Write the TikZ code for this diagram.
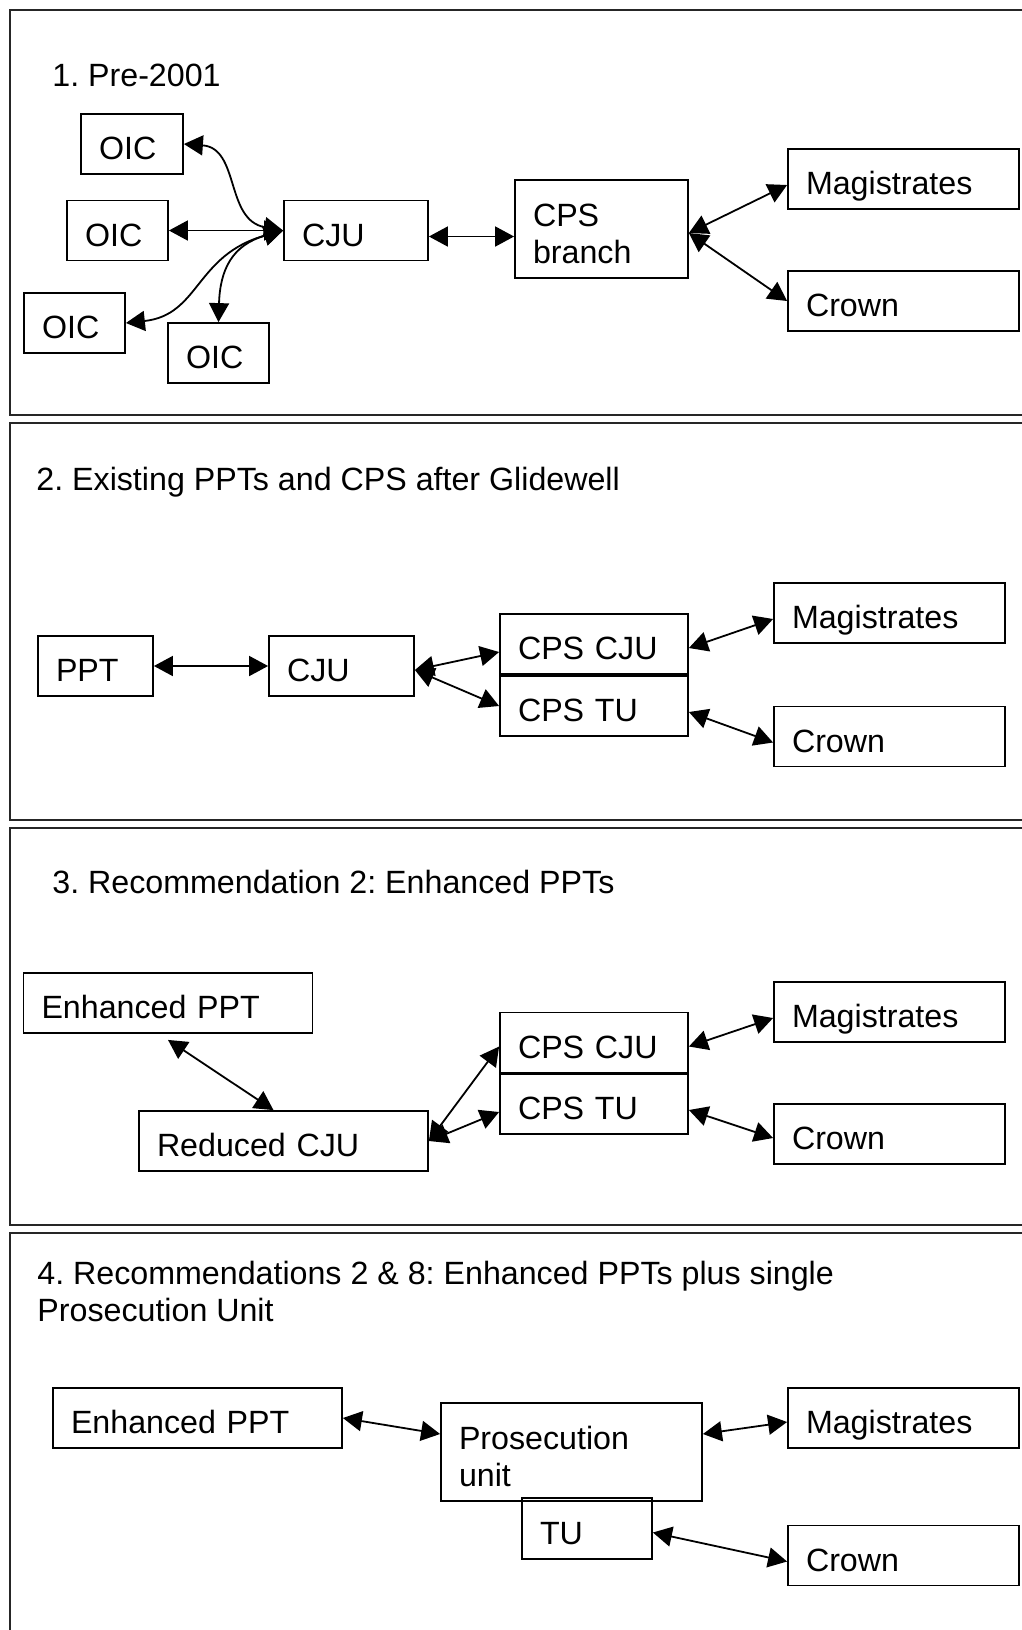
\documentclass[tikz,border=0pt]{standalone}
\usepackage{fontspec}
\setmainfont{Liberation Sans}
\usetikzlibrary{arrows.meta}
\frenchspacing

\tikzset{
	box/.style={draw, line width=0.9pt, inner xsep=9pt, inner ysep=2pt, align=left,
		text height=19pt, text depth=3.2pt, minimum height=30pt},
	box2/.style={draw, line width=0.9pt, inner xsep=9pt, align=left, minimum height=49pt,
		execute at begin node={\rule{0pt}{16pt}}},
	title/.style={anchor=base west, inner sep=0pt},
	link/.style={<->, line width=0.9pt},
	panel/.style={line width=0.9pt, draw=black!85},
}

\begin{document}
\begin{tikzpicture}[x=0.5pt, y=-0.5pt, >={Triangle[length=9.5pt,width=10pt]},
	font=\fontsize{16.1pt}{18.5pt}\selectfont]
	\clip (0,0) rectangle (1022,1630);
	
	% Ramki paneli
	\draw[panel] (10,10) rectangle (1040,415);
	\draw[panel] (10,423) rectangle (1040,820);
	\draw[panel] (10,828) rectangle (1040,1225);
	\draw[panel] (10,1233) rectangle (1040,1660);
	
	% 1. Pre-2001
	\node[title] (t1) at (52,86) {1. Pre-2001};
	\node[box, text width=33pt] (oicA) at (132,144) {OIC};
	\node[box, text width=32.5pt] (oicB) at (117.5,230.5) {OIC};
	\node[box, text width=32.5pt] (oicC) at (74.5,323) {OIC};
	\node[box, text width=32.5pt] (oicD) at (218.5,353) {OIC};
	\node[box, text width=54pt] (cjuA) at (356,230.5) {CJU};
	\node[box2, text width=68.5pt] (cps) at (601.5,229) {CPS\\branch};
	\node[box, text width=97.5pt] (magA) at (903.5,179) {Magistrates};
	\node[box, text width=97.5pt] (crownA) at (903.5,301) {Crown};
	
	\draw[link] (oicA.east) .. controls (240,148) and (225,220) .. (cjuA.west);
	\draw[link] (oicB.east) -- (cjuA.west);
	\draw[link] (oicC.east) .. controls (200,315) and (195,255) .. (cjuA.west);
	\draw[link] (oicD.north) .. controls (220,270) and (232,245) .. (cjuA.west);
	\draw[link] ([yshift=-3pt]cjuA.east) -- ([yshift=-3pt]cjuA.east -| cps.west);
	\draw[link] ([yshift=-2pt]cps.east) -- ([yshift=-3pt]magA.west);
	\draw[link] ([yshift=-2pt]cps.east) -- (crownA.west);
	
	% 2. Existing PPTs
	\node[title] (t2) at (36,490) {2. Existing PPTs and CPS after Glidewell};
	\node[box, text width=39.5pt] (ppt) at (95.5,666) {PPT};
	\node[box, text width=54.5pt] (cjuB) at (341.5,666) {CJU};
	\node[box, text width=76pt] (cpscjuB) at (594,644) {CPS CJU};
	\node[box, text width=76pt] (cpstuB) at (594,706) {CPS TU};
	\node[box, text width=97.5pt] (magB) at (889.5,613) {Magistrates};
	\node[box, text width=97.5pt] (crownB) at (889.5,736.5) {Crown};
	
	\draw[link] (ppt.east) -- (cjuB.west);
	\draw[link] ([yshift=-2pt]cjuB.east) -- ([yshift=-4pt]cpscjuB.west);
	\draw[link] ([yshift=-2pt]cjuB.east) -- (cpstuB.west);
	\draw[link] ([yshift=-2pt]cpscjuB.east) -- ([yshift=-3pt]magB.west);
	\draw[link] ([yshift=-3pt]cpstuB.east) -- ([yshift=-3pt]crownB.west);
	
	% 3. Recommendation 2
	\node[title] (t3) at (52,893) {3. Recommendation 2: Enhanced PPTs};
	\node[box, text width=126.5pt] (epptC) at (168,1003) {Enhanced PPT};
	\node[box, text width=126.5pt] (rcju) at (283.5,1141) {Reduced CJU};
	\node[box, text width=76pt] (cpscjuC) at (594,1042.5) {CPS CJU};
	\node[box, text width=76pt] (cpstuC) at (594,1104) {CPS TU};
	\node[box, text width=97.5pt] (magC) at (889.5,1012) {Magistrates};
	\node[box, text width=97.5pt] (crownC) at (889.5,1134) {Crown};
	
	\draw[link] ([yshift=-3pt]epptC.south) -- ([xshift=-5pt]rcju.north);
	\draw[link] (rcju.east) -- ([yshift=-2pt]cpscjuC.west);
	\draw[link] (rcju.east) -- ([yshift=-4pt]cpstuC.west);
	\draw[link] ([yshift=-2pt]cpscjuC.east) -- ([yshift=-3pt]magC.west);
	\draw[link] ([yshift=-3pt]cpstuC.east) -- ([yshift=-2pt]crownC.west);
	
	% 4. Recommendations 2 & 8
	\node[anchor=north west, inner sep=0pt, align=left] (t4) at (37,1261)
		{4. Recommendations 2 \& 8: Enhanced PPTs plus single\\Prosecution Unit};
	\node[box, text width=126.5pt] (epptD) at (197.5,1418) {Enhanced PPT};
	\node[box2, text width=112.5pt] (pu) at (571.5,1452) {Prosecution\\unit};
	\node[box, text width=47pt, minimum height=30.5pt] (tu) at (587,1528.5) {TU};
	\node[box, text width=97.5pt] (magD) at (903.5,1418) {Magistrates};
	\node[box, text width=97.5pt] (crownD) at (903.5,1555.5) {Crown};
	
	\draw[link] (epptD.east) -- ([yshift=9pt]pu.west);
	\draw[link] ([yshift=9pt]pu.east) -- ([yshift=-2pt]magD.west);
	\draw[link] ([yshift=-2pt]tu.east) -- ([yshift=-3pt]crownD.west);
\end{tikzpicture}
\end{document}
